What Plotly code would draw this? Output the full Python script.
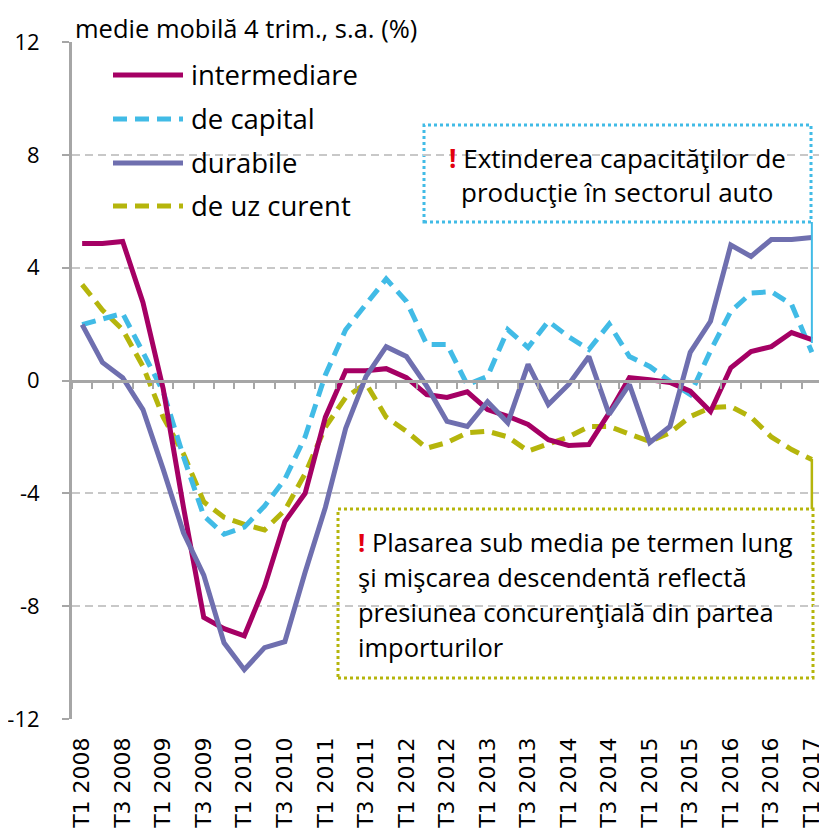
import plotly.graph_objects as go

quarters = ["T1 2008", "T2 2008", "T3 2008", "T4 2008",
            "T1 2009", "T2 2009", "T3 2009", "T4 2009",
            "T1 2010", "T2 2010", "T3 2010", "T4 2010",
            "T1 2011", "T2 2011", "T3 2011", "T4 2011",
            "T1 2012", "T2 2012", "T3 2012", "T4 2012",
            "T1 2013", "T2 2013", "T3 2013", "T4 2013",
            "T1 2014", "T2 2014", "T3 2014", "T4 2014",
            "T1 2015", "T2 2015", "T3 2015", "T4 2015",
            "T1 2016", "T2 2016", "T3 2016", "T4 2016",
            "T1 2017"]

intermediare = [4.86, 4.86, 4.93, 2.77, -0.3, -4.5, -8.4, -8.8, -9.05, -7.3, -5.0, -4.0,
                -1.3, 0.35, 0.35, 0.42, 0.1, -0.5, -0.6, -0.4, -1.03, -1.27, -1.56, -2.1,
                -2.3, -2.27, -1.15, 0.1, 0.03, -0.07, -0.38, -1.1, 0.45, 1.03, 1.2, 1.7, 1.45]
de_capital = [1.98, 2.2, 2.38, 1.0, -0.4, -2.7, -4.8, -5.45, -5.2, -4.45, -3.5, -2.0,
              0.2, 1.8, 2.7, 3.6, 2.8, 1.28, 1.28, -0.15, 0.15, 1.8, 1.17, 2.1,
              1.55, 1.1, 2.0, 0.85, 0.5, -0.03, -0.5, 1.05, 2.45, 3.1, 3.15, 2.7, 1.0]
durabile = [1.98, 0.64, 0.1, -1.03, -3.15, -5.4, -6.9, -9.3, -10.25, -9.47, -9.26, -6.8,
            -4.5, -1.7, 0.14, 1.2, 0.85, -0.2, -1.45, -1.63, -0.75, -1.5, 0.57, -0.85,
            -0.14, 0.85, -1.2, -0.14, -2.2, -1.63, 1.0, 2.1, 4.8, 4.4, 5.0, 5.0, 5.07]
de_uz_curent = [3.4, 2.5, 1.8, 0.5, -1.3, -2.6, -4.3, -4.85, -5.1, -5.3, -4.6, -3.3,
                -1.65, -0.6, -0.1, -1.3, -1.8, -2.4, -2.2, -1.85, -1.8, -2.0, -2.5, -2.27,
                -2.0, -1.63, -1.63, -1.9, -2.16, -1.85, -1.28, -0.96, -0.92, -1.3, -2.0, -2.45, -2.8]

series_names = ["intermediare", "de capital", "durabile", "de uz curent"]
y_ticks = [-12, -8, -4, 0, 4, 8, 12]
x_tick_labels = quarters[::2]

colors = {"intermediare": "#A50064", "de capital": "#41BBE6",
          "durabile": "#6F6FAF", "de uz curent": "#B5B50C"}
dashes = {"intermediare": "solid", "de capital": "14px,8px",
          "durabile": "solid", "de uz curent": "14px,8px"}
values = {"intermediare": intermediare, "de capital": de_capital,
          "durabile": durabile, "de uz curent": de_uz_curent}

# page body has an 8px margin; size the figure so the plot area lands at
# x 72..822, y 42..719 in the screenshot
OFF = 8
W, H = 827 - OFF, 833 - OFF
ML, MR, MT = 72 - OFF, 5, 42 - OFF
PW, PH = 750, 677
MB = H - MT - PH


def xp(px):
    return (px - OFF - ML) / PW


def yp(py):
    return (H + OFF - MB - py) / PH


TXT = "Open Sans"
fig = go.Figure()
for name in ["de uz curent", "de capital", "intermediare", "durabile"]:
    fig.add_trace(go.Scatter(
        x=quarters, y=values[name], mode="lines", name=name,
        line=dict(color=colors[name], width=5, dash=dashes[name]),
        showlegend=False, hoverinfo="x+y+name"))

# invisible trace carrying the tick axis at zero
fig.add_trace(go.Scatter(x=[None], y=[None], xaxis="x2", showlegend=False, hoverinfo="skip"))

shapes = []
annotations = []

# legend (custom, to match long line samples)
leg_y = [75, 119, 163, 206]
shapes.append(dict(type="rect", xref="paper", yref="paper", x0=xp(88), x1=xp(362),
                   y0=yp(228), y1=yp(52), fillcolor="white", line=dict(width=0), layer="between"))
for name, ly in zip(series_names, leg_y):
    shapes.append(dict(type="line", xref="paper", yref="paper", x0=xp(113), x1=xp(183),
                       y0=yp(ly), y1=yp(ly), line=dict(color=colors[name], width=5, dash=dashes[name]),
                       layer="above"))
    annotations.append(dict(xref="paper", yref="paper", x=xp(189), y=yp(ly), text=name,
                            showarrow=False, xanchor="left", yanchor="middle",
                            font=dict(family=TXT, size=27.5, color="black")))

# Box 1
shapes.append(dict(type="rect", xref="paper", yref="paper", x0=xp(424), x1=xp(811),
                   y0=yp(222), y1=yp(125), fillcolor="white",
                   line=dict(color="#41BBE6", width=3, dash="dot"), layer="between"))
shapes.append(dict(type="line", xref="x", yref="paper", x0=quarters[-1], x1=quarters[-1],
                   y0=yp(343), y1=yp(222), line=dict(color="#41BBE6", width=2), layer="above"))
box1_lines = ["<span style='color:#E3000F'><b>!</b></span> Extinderea capacităţilor de",
              "producţie în sectorul auto"]
for t, ly in zip(box1_lines, [158, 192]):
    annotations.append(dict(xref="paper", yref="paper", x=xp(617), y=yp(ly), text=t,
                            showarrow=False, xanchor="center", yanchor="middle",
                            font=dict(family=TXT, size=26, color="black")))

# Box 2
shapes.append(dict(type="rect", xref="paper", yref="paper", x0=xp(338), x1=xp(813),
                   y0=yp(678), y1=yp(509), fillcolor="white",
                   line=dict(color="#B5B50C", width=3, dash="dot"), layer="between"))
shapes.append(dict(type="line", xref="x", yref="paper", x0=quarters[-1], x1=quarters[-1],
                   y0=yp(509), y1=yp(459), line=dict(color="#B5B50C", width=2.5), layer="above"))
box2_lines = ["<span style='color:#E3000F'><b>!</b></span> Plasarea sub media pe termen lung",
              "şi mişcarea descendentă reflectă",
              "presiunea concurenţială din partea",
              "importurilor"]
for t, ly in zip(box2_lines, [542, 577, 612, 647]):
    annotations.append(dict(xref="paper", yref="paper", x=xp(356), y=yp(ly), text=t,
                            showarrow=False, xanchor="left", yanchor="middle",
                            font=dict(family=TXT, size=25.5, color="black")))

# title
annotations.append(dict(xref="paper", yref="paper", x=xp(73), y=yp(9),
                        text="medie mobilă 4 trim., s.a. (%)", showarrow=False,
                        xanchor="left", yanchor="top",
                        font=dict(family=TXT, size=25.5, color="black")))

fig.update_layout(
    width=W, height=H,
    margin=dict(l=ML, r=MR, t=MT, b=MB, autoexpand=False),
    plot_bgcolor="white", paper_bgcolor="white",
    showlegend=False,
    shapes=shapes, annotations=annotations,
    xaxis=dict(type="category", categoryorder="array", categoryarray=quarters,
               range=[-0.5, len(quarters) - 0.5], automargin=False,
               tickvals=x_tick_labels, ticktext=x_tick_labels, tickangle=-90,
               ticks="", showgrid=False, showline=False, zeroline=False,
               tickfont=dict(family="DejaVu Sans", size=22, color="black"),
               ticklabelstandoff=13),
    xaxis2=dict(overlaying="x", anchor="free", position=0.5, range=[-0.5, len(quarters) - 0.5],
                tickvals=[k - 0.5 for k in range(len(quarters) + 1)], ticks="outside",
                ticklen=6, tickwidth=2, tickcolor="#A6A6A6", showticklabels=False,
                showgrid=False, showline=True, linecolor="#A6A6A6", linewidth=3,
                zeroline=False, side="bottom", automargin=False),
    yaxis=dict(range=[-12, 12], tickvals=y_ticks, ticktext=[str(v) for v in y_ticks],
               showgrid=True, gridcolor="#C8C8C8", gridwidth=2, griddash="8px,5px",
               zeroline=False, showline=True, linecolor="#A6A6A6", linewidth=3,
               ticks="outside", ticklen=7, tickcolor="#A6A6A6", tickwidth=2, automargin=False,
               tickfont=dict(family=TXT, size=22, color="black"), ticklabelstandoff=18),
)

fig.write_html("out.html")
